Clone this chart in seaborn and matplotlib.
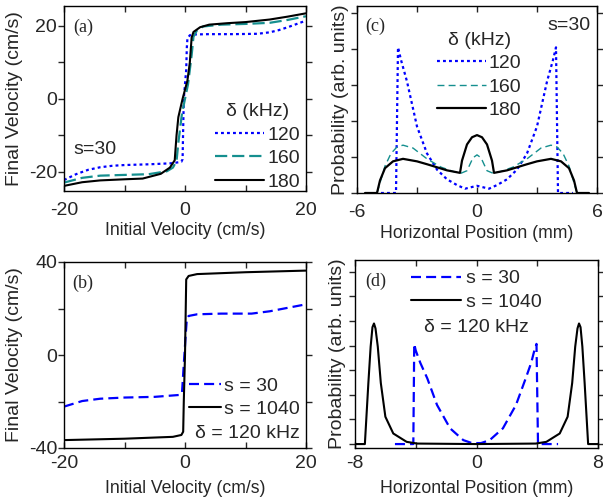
"""Four-panel figure: final velocity maps and position distributions."""

import matplotlib

matplotlib.use("Agg")

import matplotlib.pyplot as plt  # noqa: E402
from matplotlib.ticker import MultipleLocator  # noqa: E402
import seaborn as sns  # noqa: E402

# ---- panel (a): final vs initial velocity, s=30 (cm/s) ----
vin_120 = [-20, -18, -16, -14, -12, -10, -6, -2, -0.6, -0.4, -0.3, -0.2, 0.2,
           0.3, 0.4, 0.8, 1.2, 4, 8, 12, 14, 15.5, 17, 18.5, 20]
vf_120 = [-22.2, -20.6, -19.4, -18.7, -18.3, -18.1, -17.9, -17.6, -17.2, -16.5,
          -8, 0, 8, 14, 16.5, 17.4, 17.6, 17.7, 17.7, 17.8, 18.2, 18.8, 19.6,
          20.5, 21.4]
vin_160 = [-20, -17, -14, -10, -6, -3, -2, -1.4, -1.1, -0.5, 0, 0.5, 1.1, 1.4,
           2, 3, 6, 10, 14, 17, 20]
vf_160 = [-22.9, -21.6, -21.0, -20.8, -20.6, -19.8, -18.8, -17, -12, -4, 0, 4,
          12, 17, 18.8, 19.8, 20.3, 20.5, 20.8, 21.6, 22.6]
vin_180 = [-20, -17, -14, -10, -7, -4, -2.5, -1.7, -1.4, -1.1, -0.4, 0.4, 0.8,
           1.1, 1.4, 2.5, 4, 7, 10, 14, 17, 20]
vf_180 = [-23.8, -22.8, -22.3, -22.0, -21.8, -20.5, -18.8, -16.8, -10, -5, 0, 5,
          10, 16.8, 18.3, 19.6, 20.3, 20.7, 21.0, 21.7, 22.5, 23.4]

# ---- panel (b): delta = 120 kHz, two saturation values ----
vin_s30 = [-20, -17, -14, -10, -5, -1, -0.5, -0.3, -0.1, 0.1, 0.3, 0.6, 2, 6,
           11, 14, 17, 20]
vf_s30 = [-22.2, -19.8, -18.8, -18.3, -18, -17.2, -16.5, -8, 0, 8, 15.5, 16.8,
          17.5, 17.8, 17.8, 18.8, 20.3, 21.8]
vin_s1040 = [-20, -10, -2, -0.6, -0.3, -0.2, 0, 0.2, 0.6, 2, 10, 20]
vf_s1040 = [-36.6, -36, -35.2, -34.4, -33, -20, 0, 32.5, 34, 34.8, 35.6, 36.3]

# ---- panel (c): position distributions, s=30 (mm, arb. units) ----
x_c120 = [-4.8, -4.05, -3.95, -3.8, -3.5, -3.0, -2.5, -2.0, -1.5, -1.0, -0.6, 0,
          0.6, 1.0, 1.5, 2.0, 2.5, 3.0, 3.5, 3.8, 3.95, 4.05, 4.8]
p_c120 = [0, 0, 4.05, 3.7, 3.1, 1.85, 1.1, 0.65, 0.38, 0.22, 0.12, 0.2, 0.12,
          0.22, 0.38, 0.65, 1.1, 1.85, 3.1, 3.7, 4.05, 0, 0]
x_c160 = [-5.0, -4.6, -4.3, -4.0, -3.7, -3.2, -2.5, -1.8, -1.2, -0.8, -0.5,
          -0.2, 0, 0.2, 0.5, 0.8, 1.2, 1.8, 2.5, 3.2, 3.7, 4.0, 4.3, 4.6, 5.0]
p_c160 = [0, 0.75, 1.1, 1.28, 1.33, 1.25, 0.95, 0.72, 0.6, 0.55, 0.62, 0.98,
          1.06, 0.98, 0.62, 0.55, 0.6, 0.72, 0.95, 1.25, 1.33, 1.28, 1.1, 0.75, 0]
x_c180 = [-5.6, -5.0, -4.85, -4.6, -4.2, -3.7, -3.0, -2.5, -1.5, -0.85, -0.75,
          -0.5, -0.25, 0, 0.25, 0.5, 0.75, 0.85, 1.5, 2.5, 3.0, 3.7, 4.2, 4.6,
          4.85, 5.0, 5.6]
p_c180 = [0, 0, 0.35, 0.69, 0.88, 0.95, 0.88, 0.8, 0.63, 0.56, 0.9, 1.35, 1.55,
          1.61, 1.55, 1.35, 0.9, 0.56, 0.63, 0.8, 0.88, 0.95, 0.88, 0.69, 0.35,
          0, 0]

# ---- panel (d): position distributions, delta = 120 kHz ----
x_d30 = [-5.37, -4.16, -4.1, -4.0, -3.7, -3.24, -2.6, -1.74, -0.87, -0.3, 0.3,
         0.87, 1.74, 2.6, 3.24, 3.6, 3.85, 3.95, 4.05, 5.37]
p_d30 = [0, 0, 4.07, 3.8, 3.3, 2.67, 1.59, 0.64, 0.16, 0.04, 0.04, 0.16, 0.64,
         1.59, 2.67, 3.3, 3.9, 4.07, 0, 0]
x_d1040 = [-8, -7.35, -7.12, -6.97, -6.85, -6.75, -6.65, -6.5, -6.3, -6.0,
           -5.48, -4.6, -3.9, 0, 3.9, 4.6, 5.48, 6.0, 6.3, 6.5, 6.65, 6.75, 6.85,
           6.97, 7.12, 7.35, 8]
p_d1040 = [0, 0, 2.48, 3.96, 4.75, 4.9, 4.7, 3.96, 2.48, 1.11, 0.43, 0.09, 0.02,
           0.0, 0.02, 0.09, 0.43, 1.11, 2.48, 3.96, 4.7, 4.9, 4.75, 3.96, 2.48,
           0, 0]

BLUE = "#0000ff"
TEAL = "#158f8f"
BLACK = "#000000"
DOT = (0, (1.3, 1.4))
DASH_A = (0, (5.5, 2.2))
DASH_C = (0, (5, 3))
DASH_B = (0, (4.5, 2.3))

TICK_FS = 14
TEXT_FS = 14

sns.set_style("ticks")
plt.rcParams["font.family"] = ["Liberation Sans", "DejaVu Sans"]
plt.rcParams["font.size"] = 12
plt.rcParams["axes.unicode_minus"] = False
plt.rcParams["axes.linewidth"] = 1.0
plt.rcParams["axes.edgecolor"] = "black"

SERIF = ["Liberation Serif", "DejaVu Serif"]


def _line(ax, x, y, color, ls, lw, label=None):
    sns.lineplot(x=x, y=y, ax=ax, color=color, linestyle=ls, linewidth=lw,
                 estimator=None, sort=False, label=label)


def _ticks(ax, xlim, xstep, ylim, xpad):
    ax.set_xlim(*xlim)
    ax.set_ylim(*ylim)
    ax.xaxis.set_major_locator(MultipleLocator(xstep * 2))
    ax.xaxis.set_minor_locator(MultipleLocator(xstep))
    ax.tick_params(axis="x", which="both", direction="in", top=True,
                   length=4, width=1, pad=xpad, labelsize=TICK_FS)
    ax.tick_params(axis="y", which="both", direction="out", right=True,
                   length=4, width=1, pad=1, labelsize=TICK_FS)


def _labels(ax, xlabel, ylabel, ycoord):
    ax.set_xlabel(xlabel, fontsize=12.7)
    ax.set_ylabel(ylabel, fontsize=14)
    ax.xaxis.set_label_coords(0.5, -0.17)
    ax.yaxis.set_label_coords(ycoord, 0.5)


fig = plt.figure(figsize=(6.03, 4.98), dpi=100)
W, H = 603, 498


def _axes(left, top, right, bottom):
    return fig.add_axes([left / W, 1 - bottom / H, (right - left) / W,
                         (bottom - top) / H])


ax_a = _axes(64, 6, 306, 191)
ax_c = _axes(357, 6, 597, 193)
ax_b = _axes(64, 262, 306, 448)
ax_d = _axes(355, 260, 598, 448)

# (a)
_line(ax_a, vin_120, vf_120, BLUE, DOT, 1.6, "120")
_line(ax_a, vin_160, vf_160, TEAL, DASH_A, 1.6, "160")
_line(ax_a, vin_180, vf_180, BLACK, "-", 1.5, "180")
_ticks(ax_a, (-20, 20), 10, (-25.2, 25.4), 8)
ax_a.yaxis.set_major_locator(MultipleLocator(20))
ax_a.yaxis.set_minor_locator(MultipleLocator(10))
ax_a.legend(title="δ (kHz)", loc="lower right", bbox_to_anchor=(1.0, -0.03),
            frameon=False, handlelength=2.5, handletextpad=0.2,
            labelspacing=0.3, borderaxespad=0.1, borderpad=0.2,
            fontsize=TEXT_FS, title_fontsize=TEXT_FS)
ax_a.text(0.037, 0.222, "s=30", transform=ax_a.transAxes, va="center",
          fontsize=TEXT_FS)
ax_a.text(0.037, 0.886, "(a)", transform=ax_a.transAxes, va="center",
          fontsize=13, family=SERIF)
_labels(ax_a, "Initial Velocity (cm/s)", "Final Velocity (cm/s)", -0.17)

# (b)
_line(ax_b, vin_s30, vf_s30, BLUE, DASH_B, 1.6, "s = 30")
_line(ax_b, vin_s1040, vf_s1040, BLACK, "-", 1.5, "s = 1040")
_ticks(ax_b, (-20, 20), 10, (-40, 40), 5)
ax_b.yaxis.set_major_locator(MultipleLocator(40))
ax_b.yaxis.set_minor_locator(MultipleLocator(20))
ax_b.legend(loc="lower right", bbox_to_anchor=(1.0, 0.13), frameon=False,
            handlelength=1.6, handletextpad=0.2, labelspacing=0.3,
            borderaxespad=0.1, borderpad=0.2, fontsize=TEXT_FS)
ax_b.text(0.975, 0.079, "δ = 120 kHz", transform=ax_b.transAxes, ha="right",
          va="center", fontsize=TEXT_FS)
ax_b.text(0.033, 0.885, "(b)", transform=ax_b.transAxes, va="center",
          fontsize=13, family=SERIF)
_labels(ax_b, "Initial Velocity (cm/s)", "Final Velocity (cm/s)", -0.17)

# (c)
_line(ax_c, x_c120, p_c120, BLUE, DOT, 1.6, "120")
_line(ax_c, x_c160, p_c160, TEAL, DASH_C, 1.0, "160")
_line(ax_c, x_c180, p_c180, BLACK, "-", 1.6, "180")
_ticks(ax_c, (-6, 6), 3, (0, 5.2), 8)
ax_c.set_yticks(range(6))
ax_c.set_yticklabels([])
ax_c.legend(title="δ (kHz)", loc="upper center", bbox_to_anchor=(0.51, 0.935),
            frameon=False, handlelength=2.5, handletextpad=0.15,
            labelspacing=0.3, borderpad=0.2, fontsize=TEXT_FS,
            title_fontsize=TEXT_FS)
ax_c.text(0.971, 0.898, "s=30", transform=ax_c.transAxes, ha="right",
          va="center", fontsize=TEXT_FS)
ax_c.text(0.033, 0.889, "(c)", transform=ax_c.transAxes, va="center",
          fontsize=13, family=SERIF)
_labels(ax_c, "Horizontal Position (mm)", "Probability (arb. units)", -0.035)

# (d)
_line(ax_d, x_d30, p_d30, BLUE, DASH_B, 1.6, "s = 30")
_line(ax_d, x_d1040, p_d1040, BLACK, "-", 1.5, "s = 1040")
_ticks(ax_d, (-8, 8), 4, (-0.16, 7.48), 5)
ax_d.set_yticks(range(8))
ax_d.set_yticklabels([])
ax_d.legend(loc="upper center", bbox_to_anchor=(0.5, 1.02), frameon=False,
            handlelength=2.6, handletextpad=0.25, labelspacing=0.3,
            borderpad=0.2, fontsize=TEXT_FS)
ax_d.text(0.5, 0.64, "δ = 120 kHz", transform=ax_d.transAxes, ha="center",
          va="center", fontsize=TEXT_FS)
ax_d.text(0.041, 0.885, "(d)", transform=ax_d.transAxes, va="center",
          fontsize=13, family=SERIF)
_labels(ax_d, "Horizontal Position (mm)", "Probability (arb. units)", -0.035)

fig.savefig("out.png", dpi=100)
